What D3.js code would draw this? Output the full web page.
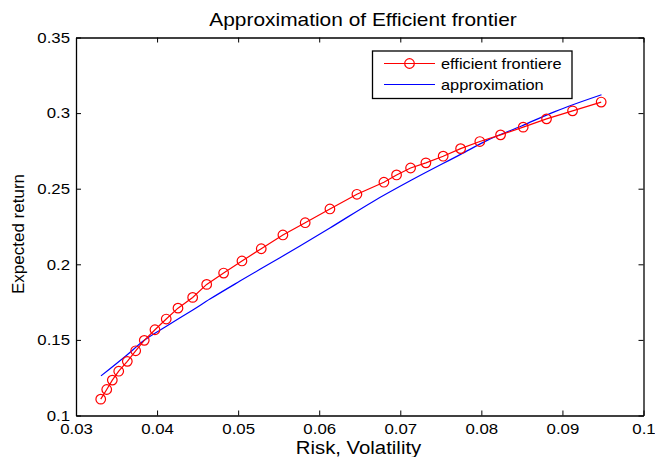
<!DOCTYPE html>
<html>
<head>
<meta charset="utf-8">
<script src="https://cdn.jsdelivr.net/npm/d3@7"></script>
<style>
	body { margin: 0; background: #fff; }
	text { font-family: "Liberation Sans", Arial, sans-serif; fill: #000; }
</style>
</head>
<body>
<svg id="chart" width="655" height="457"></svg>
<script>
// efficient frontier points (risk, return)
const frontierRisk = [0.03305, 0.03379, 0.03448, 0.03527, 0.03633, 0.03736, 0.03842, 0.03974, 0.04113, 0.04258,
	0.04439, 0.04612, 0.04821, 0.05047, 0.05285, 0.05552, 0.05827, 0.06132, 0.06465, 0.06798,
	0.06954, 0.07127, 0.07316, 0.07529, 0.07744, 0.07981, 0.08237, 0.08516, 0.08804, 0.09125, 0.09478];
const frontierReturn = [0.1108, 0.1172, 0.1234, 0.1293, 0.1358, 0.1428, 0.1497, 0.1567, 0.1638, 0.1710,
	0.1781, 0.1867, 0.1942, 0.2022, 0.2103, 0.2194, 0.2275, 0.2366, 0.2463, 0.2543,
	0.2591, 0.2637, 0.2671, 0.2715, 0.2765, 0.2812, 0.2856, 0.2907, 0.2962, 0.3015, 0.3073];

// approximation curve
const approxRisk = [0.03308, 0.03625, 0.03842, 0.04110, 0.04446, 0.04652, 0.05022, 0.05392, 0.05762, 0.06132,
	0.06666, 0.07139, 0.07744, 0.08084, 0.08496, 0.08907, 0.09482];
const approxReturn = [0.1262, 0.1399, 0.1497, 0.1588, 0.1700, 0.1770, 0.1889, 0.2005, 0.2121, 0.2240,
	0.2416, 0.2557, 0.2727, 0.2823, 0.2915, 0.3010, 0.3121];

const xTicks = [0.03, 0.04, 0.05, 0.06, 0.07, 0.08, 0.09, 0.1];
const yTicks = [0.1, 0.15, 0.2, 0.25, 0.3, 0.35];
const seriesNames = ["efficient frontiere", "approximation"];

const svg = d3.select("#chart");
const margin = {left: 76, right: 11.5, top: 37.5, bottom: 41.5};
const width = 655 - margin.left - margin.right;
const height = 457 - margin.top - margin.bottom;

const x = d3.scaleLinear().domain([0.03, 0.1]).range([0, width]);
const y = d3.scaleLinear().domain([0.1, 0.35]).range([height, 0]);

// the reference lettering is a bit wide, so stretch texts sideways
function widen(sel, k) {
	sel.each(function() {
		const w = this.getComputedTextLength();
		d3.select(this).attr("textLength", w * k).attr("lengthAdjust", "spacingAndGlyphs");
	});
}

const g = svg.append("g").attr("transform", `translate(${margin.left},${margin.top})`);

// frame with inward ticks on all four sides
const tickLen = 5;
const fmt = d => String(+d.toFixed(2));

g.append("g").attr("transform", `translate(0,${height})`)
	.call(d3.axisBottom(x).tickValues(xTicks).tickSizeInner(-tickLen).tickSizeOuter(0).tickPadding(7.5).tickFormat(fmt));
g.append("g").call(d3.axisTop(x).tickValues(xTicks).tickSizeInner(-tickLen).tickSizeOuter(0).tickFormat(""));
g.append("g")
	.call(d3.axisLeft(y).tickValues(yTicks).tickSizeInner(-tickLen).tickSizeOuter(0).tickPadding(6).tickFormat(fmt));
g.append("g").attr("transform", `translate(${width},0)`)
	.call(d3.axisRight(y).tickValues(yTicks).tickSizeInner(-tickLen).tickSizeOuter(0).tickFormat(""));

g.selectAll(".domain").attr("stroke", "#000").attr("stroke-width", 1.3);
g.selectAll(".tick line").attr("stroke", "#000");
g.selectAll(".tick text")
	.attr("fill", "#000")
	.style("font-size", "15px")
	.style("font-family", "'Liberation Sans', Arial, sans-serif");
widen(g.selectAll(".tick text"), 1.12);

const frontier = frontierRisk.map((r, i) => ({r: r, v: frontierReturn[i]}));
const approx = approxRisk.map((r, i) => ({r: r, v: approxReturn[i]}));

g.append("path").datum(approx)
	.attr("d", d3.line().x(d => x(d.r)).y(d => y(d.v)).curve(d3.curveMonotoneX))
	.attr("fill", "none").attr("stroke", "#0000ff").attr("stroke-width", 1.2);

g.append("path").datum(frontier)
	.attr("d", d3.line().x(d => x(d.r)).y(d => y(d.v)))
	.attr("fill", "none").attr("stroke", "#ff0000").attr("stroke-width", 1.2);

g.selectAll("circle.pt").data(frontier).enter().append("circle")
	.attr("class", "pt")
	.attr("cx", d => x(d.r)).attr("cy", d => y(d.v))
	.attr("r", 4.8)
	.attr("fill", "none").attr("stroke", "#ff0000").attr("stroke-width", 1.2);

// legend
const legend = svg.append("g").attr("transform", "translate(372.5,51)");
legend.append("rect").attr("width", 199.5).attr("height", 47.5)
	.attr("fill", "#fff").attr("stroke", "#000").attr("stroke-width", 1.3);
legend.append("line").attr("x1", 11.5).attr("x2", 62.5).attr("y1", 12.5).attr("y2", 12.5)
	.attr("stroke", "#ff0000").attr("stroke-width", 1.2);
legend.append("circle").attr("cx", 37).attr("cy", 12.5).attr("r", 4.8)
	.attr("fill", "none").attr("stroke", "#ff0000").attr("stroke-width", 1.2);
legend.append("line").attr("x1", 11.5).attr("x2", 62.5).attr("y1", 33.5).attr("y2", 33.5)
	.attr("stroke", "#0000ff").attr("stroke-width", 1.2);
const lgText = legend.selectAll("text.lg").data(seriesNames).enter().append("text")
	.attr("class", "lg")
	.attr("x", 68.5).attr("y", (d, i) => 18 + i * 21)
	.style("font-size", "15px")
	.text(d => d);
widen(lgText, 1.09);

// titles
const title = svg.append("text").attr("x", 363).attr("y", 26).attr("text-anchor", "middle")
	.style("font-size", "19px").text("Approximation of Efficient frontier");
widen(title, 1.1);
const xLabel = svg.append("text").attr("x", 358.5).attr("y", 454).attr("text-anchor", "middle")
	.style("font-size", "18px").text("Risk, Volatility");
widen(xLabel, 1.13);
svg.append("text").attr("transform", "translate(24,234) rotate(-90)").attr("text-anchor", "middle")
	.style("font-size", "17px").text("Expected return");
</script>
</body>
</html>
